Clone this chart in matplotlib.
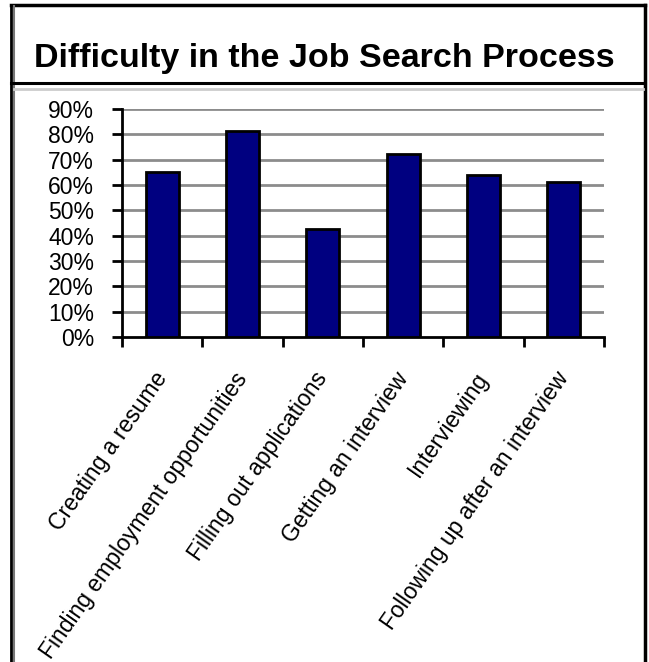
import matplotlib
matplotlib.use('Agg')
import matplotlib.pyplot as plt
from matplotlib.lines import Line2D
from matplotlib.ticker import FuncFormatter

categories = ['Creating a resume', 'Finding employment opportunities',
              'Filling out applications', 'Getting an interview',
              'Interviewing', 'Following up after an interview']
values = [65, 81.5, 42.8, 72.2, 63.8, 61.3]
yticks = [0, 10, 20, 30, 40, 50, 60, 70, 80, 90]

W, H = 649, 662
fig = plt.figure(figsize=(W / 100, H / 100), dpi=100)
plt.rcParams['font.family'] = ['Liberation Sans', 'DejaVu Sans']

def fx(px):
    return px / W

def fy(py):
    return 1 - py / H

# outer frame and title box
fig.add_artist(Line2D([fx(11), fx(645)], [fy(5), fy(5)], color='black', lw=2.5))
fig.add_artist(Line2D([fx(11), fx(11)], [fy(5), fy(662)], color='black', lw=2))
fig.add_artist(Line2D([fx(14), fx(14)], [fy(6), fy(662)], color='#777777', lw=1.5))
fig.add_artist(Line2D([fx(645), fx(645)], [fy(5), fy(662)], color='black', lw=2.5))
fig.add_artist(Line2D([fx(11), fx(645)], [fy(83), fy(83)], color='black', lw=2.2))
fig.add_artist(Line2D([fx(14), fx(643)], [fy(89), fy(89)], color='#cccccc', lw=2))

fig.text(fx(324), fy(67), 'Difficulty in the Job Search Process', ha='center', va='baseline',
         fontsize=24.5, fontweight='bold')

ax = fig.add_axes([fx(122), fy(337), fx(604) - fx(122), fy(109) - fy(337)])
x = list(range(len(categories)))
ax.bar(x, values, width=0.41, color='#000080', edgecolor='black', linewidth=2, zorder=3)

ax.set_ylim(0, 90)
ax.set_xlim(-0.5, len(categories) - 0.5)
ax.set_yticks(yticks)
ax.yaxis.set_major_formatter(FuncFormatter(lambda v, p: f'{int(v)}%'))
for t in yticks[1:]:
    ax.axhline(t, color='#8c8c8c', lw=2, zorder=1)

ax.set_xticks([i - 0.5 for i in range(len(categories) + 1)], minor=False)
ax.set_xticklabels([])
ax.set_xticks(x, minor=True)
ax.set_xticklabels(categories, minor=True, rotation=55, ha='right', va='center',
                   rotation_mode='anchor', fontsize=16.5)
ax.tick_params(axis='x', which='minor', length=0, pad=27)
ax.tick_params(axis='x', which='major', length=7, width=2, direction='out')
ax.tick_params(axis='y', length=7, width=2, direction='out', labelsize=16.5, pad=13)

for s in ['top', 'right']:
    ax.spines[s].set_visible(False)
ax.spines['left'].set_linewidth(2)
ax.spines['bottom'].set_linewidth(2)

fig.savefig('out.png', dpi=100)
